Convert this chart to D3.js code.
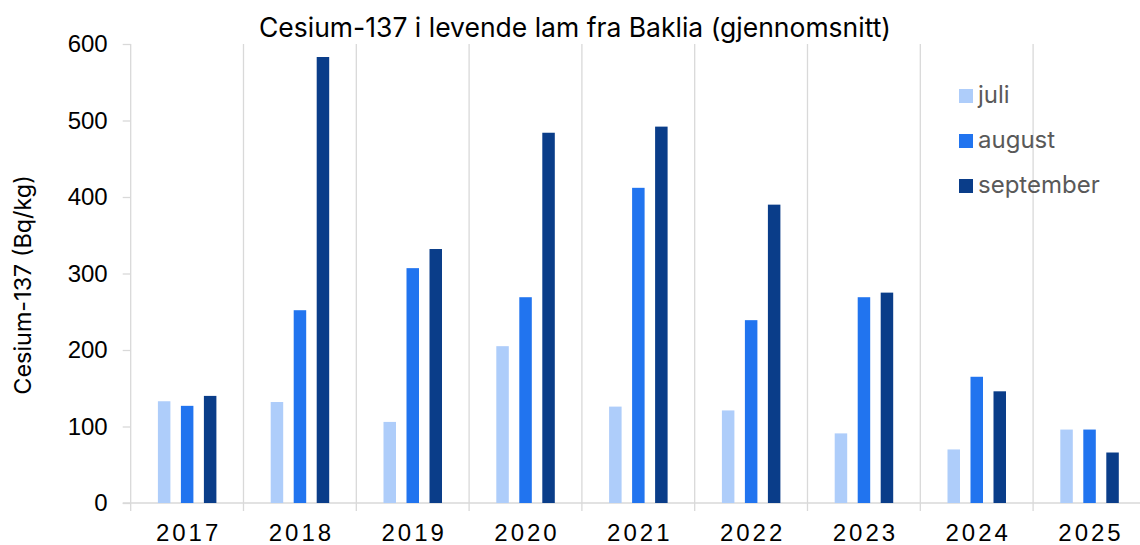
<!DOCTYPE html>
<html>
<head>
<meta charset="utf-8">
<script src="https://cdn.jsdelivr.net/npm/d3@7"></script>
<style>
  body { margin: 0; background: #fff; }
  svg { display: block; font-family: Inter, "Noto Sans", sans-serif; }
</style>
</head>
<body>
<div id="chart"></div>
<script>
const years = ["2017", "2018", "2019", "2020", "2021", "2022", "2023", "2024", "2025"];
const series = ["juli", "august", "september"];
const juli = [133, 132, 106, 205, 126, 121, 91, 70, 96];
const august = [127, 252, 307, 269, 412, 239, 269, 165, 96];
const september = [140, 583, 332, 484, 492, 390, 275, 146, 66];
const yTicks = [0, 100, 200, 300, 400, 500, 600];
const colors = ["#aecdfa", "#2174ef", "#0a3d89"];

const values = { juli: juli, august: august, september: september };

const svg = d3.select("#chart").append("svg")
    .attr("width", 1140)
    .attr("height", 545);

const plotLeft = 130.7, plotRight = 1145.9, plotTop = 44, plotBottom = 503;

const x = d3.scaleBand()
    .domain(years)
    .range([plotLeft, plotRight])
    .padding(0);

// bars inside each year
const x1 = d3.scaleBand()
    .domain(series)
    .range([27.2, 85.7])
    .paddingInner(0.4565)
    .paddingOuter(0);

const y = d3.scaleLinear()
    .domain([0, 600])
    .range([plotBottom, plotTop]);

const color = d3.scaleOrdinal().domain(series).range(colors);

// vertical grid lines between years
svg.append("g")
    .selectAll("line")
    .data(years.slice(1))
    .join("line")
    .attr("x1", d => x(d))
    .attr("x2", d => x(d))
    .attr("y1", plotTop)
    .attr("y2", plotBottom + 8)
    .attr("stroke", "#d9d9d9")
    .attr("stroke-width", 1.3);

// y axis
const yAxis = svg.append("g")
    .attr("transform", `translate(${plotLeft}, 0)`)
    .call(d3.axisLeft(y).tickValues(yTicks).tickSize(8).tickPadding(15));
yAxis.select(".domain").attr("stroke", "#d9d9d9").attr("stroke-width", 1.3)
    .attr("d", `M0,${plotTop}V${plotBottom + 8}`);
yAxis.selectAll(".tick line").attr("stroke", "#d9d9d9").attr("stroke-width", 1.3);
yAxis.selectAll(".tick text")
    .attr("font-size", 24)
    .attr("fill", "#000");

// x axis
const xAxis = svg.append("g")
    .attr("transform", `translate(0, ${plotBottom})`)
    .call(d3.axisBottom(x).tickSize(0).tickPadding(21));
xAxis.select(".domain").attr("stroke", "#d9d9d9").attr("stroke-width", 1.3)
    .attr("d", `M${plotLeft - 8},0H${plotRight}`);
xAxis.selectAll(".tick text")
    .attr("font-size", 24)
    .attr("letter-spacing", "3px")
    .attr("dx", "1.5px")
    .attr("fill", "#000");

// bars
const groups = svg.append("g")
    .selectAll("g")
    .data(years)
    .join("g")
    .attr("transform", d => `translate(${x(d)}, 0)`);

groups.selectAll("rect")
    .data((d, i) => series.map(s => ({ key: s, value: values[s][i] })))
    .join("rect")
    .attr("x", d => x1(d.key))
    .attr("y", d => y(d.value))
    .attr("width", x1.bandwidth())
    .attr("height", d => y(0) - y(d.value))
    .attr("fill", d => color(d.key));

// title
svg.append("text")
    .attr("x", 575)
    .attr("y", 37)
    .attr("text-anchor", "middle")
    .attr("font-size", 26.5)
    .attr("fill", "#000")
    .text("Cesium-137 i levende lam fra Baklia (gjennomsnitt)");

// y axis title
svg.append("text")
    .attr("transform", "translate(31, 285) rotate(-90)")
    .attr("text-anchor", "middle")
    .attr("font-size", 23.4)
    .attr("fill", "#000")
    .text("Cesium-137 (Bq/kg)");

// legend
const legend = svg.append("g")
    .selectAll("g")
    .data(series)
    .join("g")
    .attr("transform", (d, i) => `translate(959, ${89 + i * 45})`);

legend.append("rect")
    .attr("width", 14)
    .attr("height", 14)
    .attr("fill", d => color(d));

legend.append("text")
    .attr("x", 19)
    .attr("y", 14)
    .attr("font-size", 24)
    .attr("fill", "#595959")
    .text(d => d);
</script>
</body>
</html>
